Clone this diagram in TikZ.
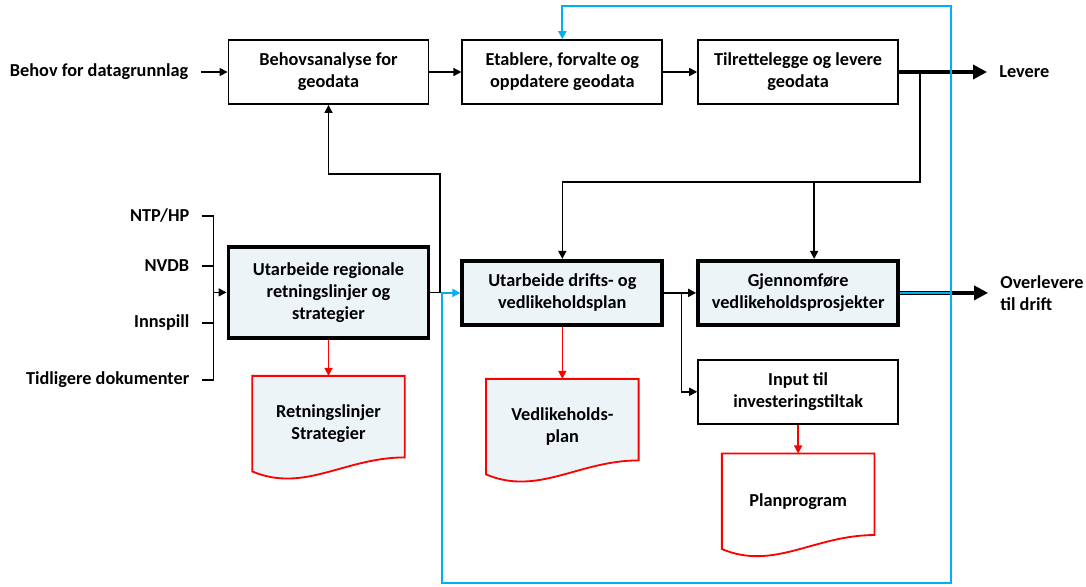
\documentclass[tikz,border=0pt]{standalone}
\usepackage{fontspec}
\setmainfont{Carlito}
\usepackage{tikz}
\usetikzlibrary{positioning, arrows.meta, backgrounds}

\definecolor{boxfill}{RGB}{236,244,248}
\definecolor{flowblue}{RGB}{0,176,240}
\definecolor{docred}{RGB}{255,0,0}

\begin{document}
\begin{tikzpicture}[
        box/.style={
            rectangle,
            draw,
            line width=1.3pt,
            minimum width=5cm,
            minimum height=1.6cm,
            align=center,
            font=\bfseries\fontsize{13}{15.6}\selectfont
        },
        keybox/.style={
            box,
            line width=2.8pt,
            fill=boxfill
        },
        doc/.style={
            rectangle,
            minimum width=3.8cm,
            minimum height=2.375cm,
            align=center,
            font=\bfseries\fontsize{13}{15.6}\selectfont
        },
        lbl/.style={
            inner xsep=0.3cm,
            font=\bfseries\fontsize{13}{15.6}\selectfont
        },
        wire/.style={
            line width=1.1pt
        },
        link/.style={
            -{Triangle[length=0.2cm, width=0.2cm]},
            line width=1.1pt
        },
        biglink/.style={
            -{Triangle[length=0.35cm, width=0.35cm]},
            line width=2.4pt
        },
        redlink/.style={
            link,
            docred
        },
        bluelink/.style={
            link,
            line width=1.3pt,
            flowblue
        },
        docline/.style={
            draw=docred,
            line width=1.3pt
        }
    ]
    
    \useasboundingbox (0,0) rectangle (27.15,-14.65);
    
    % Geodata row
    \node[box] (behovsanalyse) at (8.2125,-1.8) {Behovsanalyse for\\geodata};
    \node[box, right=0.8cm of behovsanalyse] (etablere) {Etablere, forvalte og\\oppdatere geodata};
    \node[box, right=0.85cm of etablere] (tilrettelegge) {Tilrettelegge og levere\\geodata};
    
    % Plan row
    \node[keybox, minimum height=2.275cm, below=3.5cm of behovsanalyse] (regional) {Utarbeide regionale\\retningslinjer og\\strategier};
    \node[keybox, below=3.85cm of etablere] (drifts) {Utarbeide drifts- og\\vedlikeholdsplan};
    \node[keybox, below=3.85cm of tilrettelegge] (gjennomfore) {Gjennomføre\\vedlikeholdsprosjekter};
    \node[box, below=0.8cm of gjennomfore] (input) {Input til\\investeringstiltak};
    
    % Documents
    \node[doc, below=0.9cm of regional] (retningslinjer) {Retningslinjer\\Strategier};
    \node[doc, below=1.3cm of drifts] (vedlikehold) {Vedlikeholds-\\plan};
    \node[doc, below=0.72cm of input] (planprogram) {Planprogram};
    
    \begin{scope}[on background layer]
        \foreach \d/\c in {retningslinjer/boxfill, vedlikehold/boxfill, planprogram/white}
            \draw[docline, fill=\c] (\d.north west) -- (\d.north east) -- ([yshift=0.35cm]\d.south east)
                .. controls +(-1.5,0) and +(1.3,-0.55) .. (\d.south west) -- cycle;
    \end{scope}
    
    % Inputs and outputs
    \node[lbl, left=0.675cm of behovsanalyse] (behov) {Behov for datagrunnlag};
    \node[lbl, left=0.625cm of regional, yshift=1.9125cm] (ntp) {NTP/HP};
    \node[lbl, left=0.625cm of regional, yshift=0.6625cm] (nvdb) {NVDB};
    \node[lbl, left=0.625cm of regional, yshift=-0.7625cm] (innspill) {Innspill};
    \node[lbl, left=0.625cm of regional, yshift=-2.1875cm] (tidligere) {Tidligere dokumenter};
    \node[lbl, right=2.2cm of tilrettelegge] (levere) {Levere};
    \node[lbl, right=2.2cm of gjennomfore, align=left] (overlevere) {Overlevere\\til drift};
    
    % Bends
    \coordinate (bus) at ([xshift=-0.325cm]regional.west);
    \coordinate (upturn) at (11.0,-4.35);
    \coordinate (split) at (23.0,-4.55);
    \coordinate (bluetop) at (23.775,-0.15);
    \coordinate (bluebottom) at (11.05,-14.575);
    
    % Flow
    \draw[link] (behov) -- (behovsanalyse);
    \draw[link] (behovsanalyse) -- (etablere);
    \draw[link] (etablere) -- (tilrettelegge);
    \draw[biglink] (tilrettelegge) -- (levere);
    \draw[link] (tilrettelegge.east -| split) -- (split) -| (drifts.north);
    \draw[link] ([xshift=0.4cm]gjennomfore.north |- split) -- ([xshift=0.4cm]gjennomfore.north);
    
    \draw[wire] (ntp.east) -| (bus) |- (tidligere.east);
    \draw[wire] (nvdb.east) -- (nvdb.east -| bus);
    \draw[wire] (innspill.east) -- (innspill.east -| bus);
    \draw[link] (bus) -- (regional.west);
    \draw[link] (regional.east) -| (upturn) -| (behovsanalyse.south);
    
    \draw[link] (drifts) -- (gjennomfore);
    \draw[link] ([xshift=0.425cm]drifts.east) |- (input.west);
    \draw[biglink] (gjennomfore) -- (overlevere);
    
    % Documents out
    \draw[redlink] (regional) -- (retningslinjer);
    \draw[redlink] (drifts) -- (vedlikehold);
    \draw[redlink] (input) -- (planprogram);
    
    % Feedback loop
    \draw[bluelink] (gjennomfore.east) -| (bluetop) -| (etablere.north);
    \draw[bluelink] (gjennomfore.east -| bluetop) |- (bluebottom) |- (drifts.west);
    
    \end{tikzpicture}
\end{document}
